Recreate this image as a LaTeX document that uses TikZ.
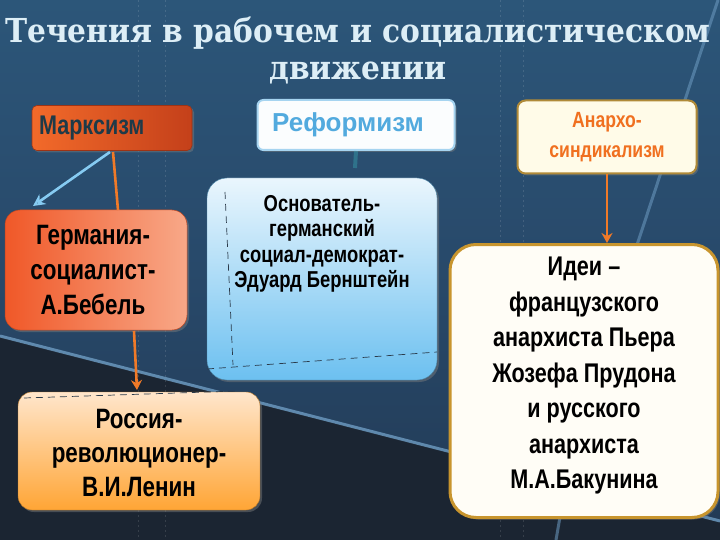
\documentclass[tikz,border=0pt]{standalone}
\usepackage{fontspec}
\setmainfont{Liberation Sans}
\newfontfamily\titlefont{DejaVu Serif Condensed}
\newfontfamily\nf[FakeStretch=0.8]{Liberation Sans}
\usetikzlibrary{arrows.meta,shadows}
\definecolor{bgtop}{HTML}{2C5679}
\definecolor{bgmid}{HTML}{28496A}
\definecolor{bgbot}{HTML}{223A55}
\definecolor{bgdark}{HTML}{1B2532}
\definecolor{edgecol}{HTML}{6E9CC2}
\definecolor{titlecol}{HTML}{DDEEF6}
\definecolor{marxA}{HTML}{F26A2A}
\definecolor{marxB}{HTML}{C4401A}
\definecolor{marxtext}{HTML}{1E3A48}
\definecolor{refdraw}{HTML}{A6D4F0}
\definecolor{reftext}{HTML}{52AADE}
\definecolor{anfill}{HTML}{FFFBE8}
\definecolor{andraw}{HTML}{B08A38}
\definecolor{antext}{HTML}{F07020}
\definecolor{germA}{HTML}{F05828}
\definecolor{germB}{HTML}{F8A888}
\definecolor{osnA}{HTML}{EAF6FD}
\definecolor{osnB}{HTML}{6CC0F0}
\definecolor{rusA}{HTML}{FFE6CC}
\definecolor{rusB}{HTML}{FFA535}
\definecolor{ideidraw}{HTML}{C8952E}
\definecolor{ideifill}{HTML}{FFFDF6}
\definecolor{orangeline}{HTML}{F07A28}
\definecolor{blueline}{HTML}{86CBF2}
\definecolor{dashcol}{HTML}{2A3A4A}
\begin{document}
\begin{tikzpicture}[x=1pt,y=-1pt,
  titletext/.style={font=\titlefont\bfseries\fontsize{33}{36}\selectfont, text=titlecol, inner sep=0pt},
  boxbase/.style={inner sep=0pt, drop shadow={shadow xshift=2pt, shadow yshift=-2pt, opacity=0.45}},
  bodytext/.style={font=\nf\bfseries, align=center, inner sep=0pt, text=black},
  oline/.style={draw=orangeline, line width=2.6pt},
  bline/.style={draw=blueline, line width=2.6pt},
  dashline/.style={draw=dashcol, line width=0.7pt, dash pattern=on 7pt off 5pt},
  bgdots/.style={draw=white, opacity=0.12, line width=1pt, dash pattern=on 2pt off 3pt}]
\path[use as bounding box] (0,0) rectangle (720,540);
% background
\shade[top color=bgtop, bottom color=bgbot, middle color=bgmid] (0,0) rectangle (720,540);
\fill[bgdark] (0,337) -- (720,522) -- (720,540) -- (0,540) -- cycle;
\draw[edgecol, opacity=0.8, line width=3pt] (0,336) -- (720,521);
\draw[edgecol, opacity=0.55, line width=3pt] (718,0) -- (636,248);
\draw[edgecol, opacity=0.55, line width=3pt] (560,517) -- (556,540);
\draw[bgdots] (138,0) -- (138,540);
\draw[bgdots] (165,0) -- (165,540);
\draw[bgdots] (500,0) -- (500,540);
\draw[bgdots] (523,0) -- (523,540);
% title
\node[titletext] (t1) at (358,33) {Течения в рабочем и социалистическом};
\node[titletext] (t2) at (358,73) {движении};
% top boxes
\node[boxbase, rounded corners=5pt, minimum width=160pt, minimum height=45pt,
      left color=marxA, right color=marxB, draw=marxB!80!black, line width=0.6pt,
      text width=146pt, align=left, font=\nf\bfseries\fontsize{27}{29}\selectfont, text=marxtext]
      (marx) at (112,128) {Марксизм};
\node[boxbase, rounded corners=6pt, minimum width=197pt, minimum height=50pt,
      fill=white!95!refdraw, draw=refdraw, line width=2pt,
      font=\bfseries\fontsize{26}{28}\selectfont, text=reftext]
      (ref) at (356,125) {Реформизм\hspace*{16pt}};
\node[boxbase, rounded corners=8pt, minimum width=179pt, minimum height=73pt,
      fill=anfill, draw=andraw, line width=2pt, align=center,
      font=\nf\bfseries\fontsize{22}{30}\selectfont, text=antext]
      (anarch) at (607,137) {Анархо-\\синдикализм};
% Germany
\node[boxbase, rounded corners=15pt, minimum width=182pt, minimum height=120pt,
      left color=germA, right color=germB, draw=germA!80!black, line width=0.5pt]
      (germ) at (96,270) {};
\node[bodytext, font=\nf\bfseries\fontsize{28}{35}\selectfont] (germtext) at (93,270)
      {Германия-\\социалист-\\А.Бебель};
% Bernstein
\node[boxbase, rounded corners=20pt, minimum width=230pt, minimum height=202pt,
      top color=osnA, bottom color=osnB, draw=osnB!70!black, line width=0.4pt]
      (osn) at (322,279) {};
\node[bodytext, anchor=north, font=\nf\bfseries\fontsize{23}{25.5}\selectfont] (osntext) at (322,195)
      {Основатель-\\германский\\социал-демократ-\\Эдуард Бернштейн};
\coordinate (osnv1) at (225,192);
\coordinate (osnv2) at (233,365);
\coordinate (osnh1) at (207,369);
\coordinate (osnh2) at (437,352);
\draw[dashline] (osnv1) -- (osnv2);
\draw[dashline] (osnh1) -- (osnh2);
% Russia
\node[boxbase, rounded corners=14pt, minimum width=242pt, minimum height=118pt,
      top color=rusA, bottom color=rusB, draw=rusB!70!black, line width=0.4pt]
      (rus) at (139,451) {};
\node[bodytext, font=\nf\bfseries\fontsize{28}{34}\selectfont] (rustext) at (139,453)
      {Россия-\\революционер-\\В.И.Ленин};
\coordinate (rusd1) at (24,398);
\coordinate (rusd2) at (238,391);
\draw[dashline] (rusd1) -- (rusd2);
% Ideas
\node[boxbase, rounded corners=26pt, minimum width=268pt, minimum height=273pt,
      fill=ideifill, draw=ideidraw, line width=3pt]
      (idei) at (584,381) {};
\node[bodytext, font=\nf\bfseries\fontsize{27}{35.5}\selectfont] (ideitext) at (584,376)
      {Идеи –\\французского\\анархиста Пьера\\Жозефа Прудона\\и русского\\анархиста\\М.А.Бакунина};
% connectors
\coordinate (m1) at (110,152);
\coordinate (g1) at (33,206);
\draw[bline, -{Stealth[length=12pt, width=12pt, open]}] (m1) -- (g1);
\coordinate (m2) at (113,152);
\coordinate (g2) at (118,210);
\draw[oline] (m2) -- (g2);
\coordinate (g3) at (134,331);
\coordinate (r3) at (137,390);
\draw[oline, -{Stealth[length=10pt, width=11pt]}] (g3) -- (r3);
\draw[oline, -{Stealth[length=10pt, width=11pt]}] (anarch.south) -- (anarch.south |- idei.north);
\coordinate (refstub) at (355,168);
\draw[draw=teal!60!blueline, line width=4pt, opacity=0.45] (ref.south) -- (refstub);
\end{tikzpicture}
\end{document}
